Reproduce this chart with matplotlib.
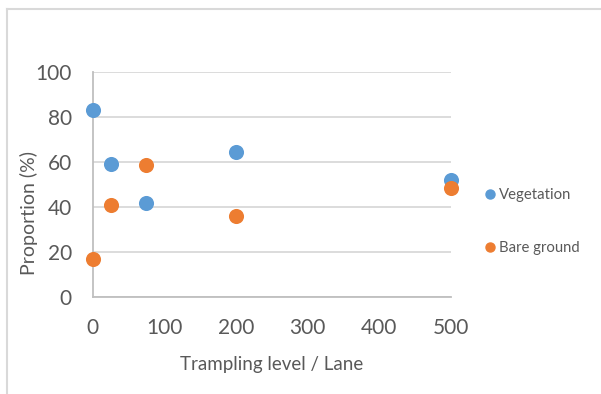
import matplotlib
matplotlib.use("Agg")
import matplotlib.pyplot as plt
from matplotlib.lines import Line2D

plt.rcParams['font.family'] = ['Lato', 'DejaVu Sans']

# Trampling level (x) and proportions (%)
levels = [0, 25, 75, 200, 500]
vegetation = [83, 59, 42, 64.5, 52]
bare_ground = [17, 41, 58.5, 36, 48.5]
series_names = ['Vegetation', 'Bare ground']

BLUE = '#5B9BD5'
ORANGE = '#ED7D31'
TEXT = '#595959'
GRID = '#D9D9D9'


def plot_chart():
    fig = plt.figure(figsize=(6.01, 3.94), dpi=100)
    ax = fig.add_axes([0.1542, 0.2454, 0.5962, 0.5726])

    # outer chart border (top and left edges visible)
    fig.add_artist(Line2D([0.011, 0.011], [0, 0.978], transform=fig.transFigure,
                          color=GRID, lw=1.5))
    fig.add_artist(Line2D([0.011, 1.0], [0.978, 0.978], transform=fig.transFigure,
                          color=GRID, lw=1.5))

    ax.scatter(levels, vegetation, s=118, color=BLUE, zorder=3, clip_on=False,
               linewidths=0)
    ax.scatter(levels, bare_ground, s=118, color=ORANGE, zorder=3, clip_on=False,
               linewidths=0)

    ax.set_xlim(0, 500)
    ax.set_ylim(0, 100)
    ax.set_xticks(range(0, 501, 100))
    ax.set_yticks(range(0, 101, 20))
    ax.tick_params(length=0, labelsize=15, labelcolor=TEXT)
    ax.tick_params(axis='y', pad=15)
    ax.tick_params(axis='x', pad=15)

    ax.grid(axis='y', color=GRID, lw=1.3)
    ax.set_axisbelow(True)
    for side in ['top', 'right']:
        ax.spines[side].set_visible(False)
    ax.spines['left'].set_color('#BFBFBF')
    ax.spines['bottom'].set_color('#BFBFBF')
    ax.spines['left'].set_linewidth(1.3)
    ax.spines['bottom'].set_linewidth(1.3)

    ax.set_xlabel('Trampling level / Lane', fontsize=13.5, color=TEXT, va='center')
    ax.xaxis.set_label_coords(0.5, -0.296)
    ax.set_ylabel('Proportion (%)', fontsize=14, color=TEXT, va='center')
    ax.yaxis.set_label_coords(-0.179, 0.374)

    handles = [Line2D([], [], ls='none', marker='o', ms=6.5, color=BLUE),
               Line2D([], [], ls='none', marker='o', ms=6.5, color=ORANGE)]
    leg = fig.legend(handles, series_names, loc='center left',
                     bbox_to_anchor=(0.785, 0.438), frameon=False, fontsize=10.7,
                     labelspacing=2.6, handlelength=0.6, handletextpad=0.3)
    for t in leg.get_texts():
        t.set_color(TEXT)

    fig.savefig('out.png', dpi=100)


def main():
    plot_chart()


if __name__ == '__main__':
    main()
